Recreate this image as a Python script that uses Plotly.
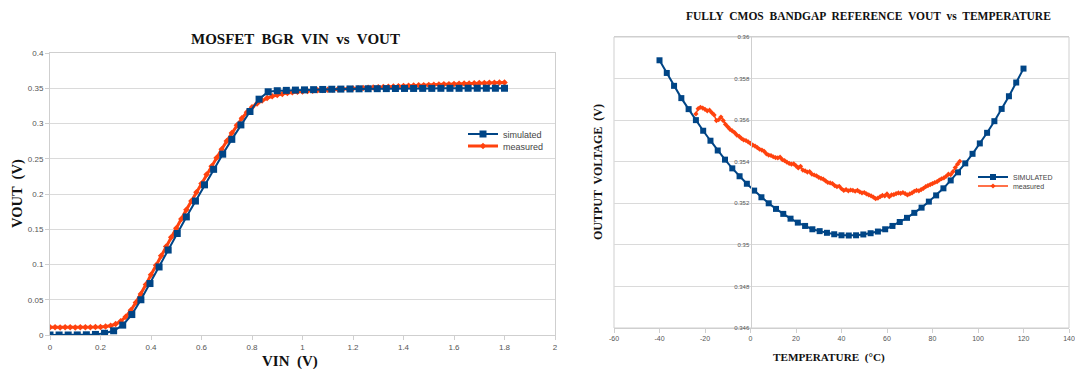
import plotly.graph_objects as go

# ---------------- Left chart: VIN vs VOUT ----------------
vin_sim = [0.000, 0.036, 0.072, 0.108, 0.144, 0.180, 0.216, 0.252, 0.288, 0.324,
           0.360, 0.396, 0.432, 0.468, 0.504, 0.540, 0.576, 0.612, 0.648, 0.684,
           0.720, 0.756, 0.792, 0.828, 0.864, 0.900, 0.936, 0.972, 1.008, 1.044,
           1.080, 1.116, 1.152, 1.188, 1.224, 1.260, 1.296, 1.332, 1.368, 1.404,
           1.440, 1.476, 1.512, 1.548, 1.584, 1.620, 1.656, 1.692, 1.728, 1.764, 1.800]
vout_sim = [0.0000, 0.0000, 0.0000, 0.0001, 0.0003, 0.0008, 0.0025, 0.0060, 0.0140, 0.0290,
            0.0500, 0.0730, 0.0965, 0.1205, 0.1440, 0.1675, 0.1900, 0.2130, 0.2350, 0.2565,
            0.2775, 0.2980, 0.3170, 0.3345, 0.3450, 0.3465, 0.3470, 0.3474, 0.3477, 0.3480,
            0.3483, 0.3486, 0.3488, 0.3490, 0.3492, 0.3493, 0.3494, 0.3495, 0.3496, 0.3497,
            0.3497, 0.3498, 0.3498, 0.3499, 0.3499, 0.3499, 0.3500, 0.3500, 0.3500, 0.3500, 0.3500]

vin_meas = [0.00, 0.02, 0.04, 0.06, 0.08, 0.10, 0.12, 0.14, 0.16, 0.18,
            0.20, 0.22, 0.24, 0.26, 0.28, 0.30, 0.32, 0.34, 0.36, 0.38,
            0.40, 0.42, 0.44, 0.46, 0.48, 0.50, 0.52, 0.54, 0.56, 0.58,
            0.60, 0.62, 0.64, 0.66, 0.68, 0.70, 0.72, 0.74, 0.76, 0.78,
            0.80, 0.82, 0.84, 0.86, 0.88, 0.90, 0.92, 0.94, 0.96, 0.98,
            1.00, 1.02, 1.04, 1.06, 1.08, 1.10, 1.12, 1.14, 1.16, 1.18,
            1.20, 1.22, 1.24, 1.26, 1.28, 1.30, 1.32, 1.34, 1.36, 1.38,
            1.40, 1.42, 1.44, 1.46, 1.48, 1.50, 1.52, 1.54, 1.56, 1.58,
            1.60, 1.62, 1.64, 1.66, 1.68, 1.70, 1.72, 1.74, 1.76, 1.78, 1.80]
vout_meas = [0.0110, 0.0110, 0.0108, 0.0110, 0.0109, 0.0108, 0.0110, 0.0110, 0.0111, 0.0112,
             0.0114, 0.0120, 0.0132, 0.0155, 0.0195, 0.0260, 0.0350, 0.0460, 0.0580, 0.0715,
             0.0855, 0.0990, 0.1125, 0.1255, 0.1385, 0.1515, 0.1645, 0.1775, 0.1900, 0.2025,
             0.2150, 0.2275, 0.2395, 0.2515, 0.2635, 0.2750, 0.2865, 0.2975, 0.3075, 0.3160,
             0.3230, 0.3285, 0.3328, 0.3360, 0.3385, 0.3405, 0.3420, 0.3432, 0.3442, 0.3450,
             0.3455, 0.3461, 0.3466, 0.3471, 0.3475, 0.3479, 0.3483, 0.3486, 0.3489, 0.3492,
             0.3495, 0.3499, 0.3503, 0.3507, 0.3511, 0.3515, 0.3518, 0.3522, 0.3525, 0.3529,
             0.3532, 0.3535, 0.3538, 0.3541, 0.3544, 0.3547, 0.3550, 0.3553, 0.3556, 0.3558,
             0.3561, 0.3563, 0.3566, 0.3568, 0.3570, 0.3573, 0.3575, 0.3577, 0.3579, 0.3581, 0.3583]

# ---------------- Right chart: VOUT vs temperature ----------------
temp_sim = [-40.0, -36.8, -33.6, -30.4, -27.2, -24.0, -20.8, -17.6, -14.4, -11.2,
            -8.0, -4.8, -1.6, 1.6, 4.8, 8.0, 11.2, 14.4, 17.6, 20.8,
            24.0, 27.2, 30.4, 33.6, 36.8, 40.0, 43.2, 46.4, 49.6, 52.8,
            56.0, 59.2, 62.4, 65.6, 68.8, 72.0, 75.2, 78.4, 81.6, 84.8,
            88.0, 91.2, 94.4, 97.6, 100.8, 104.0, 107.2, 110.4, 113.6, 116.8, 120.0]
vtemp_sim = [0.35888, 0.35827, 0.35765, 0.35706, 0.35653, 0.35600, 0.35549, 0.35501, 0.35454, 0.35410,
             0.35368, 0.35330, 0.35294, 0.35261, 0.35229, 0.35200, 0.35173, 0.35149, 0.35126, 0.35107,
             0.35091, 0.35075, 0.35066, 0.35058, 0.35051, 0.35046, 0.35045, 0.35046, 0.35050, 0.35056,
             0.35064, 0.35075, 0.35091, 0.35110, 0.35130, 0.35154, 0.35179, 0.35208, 0.35238, 0.35272,
             0.35310, 0.35349, 0.35392, 0.35438, 0.35488, 0.35539, 0.35595, 0.35654, 0.35715, 0.35781, 0.35848]

temp_meas = [-24, -23, -22, -21, -20, -19, -18, -17, -16, -15, -14, -13, -12, -11, -10,
             -9, -8, -7, -6, -5, -4, -3, -2, -1, 0, 1, 2, 3, 4, 5,
             6, 7, 8, 9, 10, 11, 12, 13, 14, 15, 16, 17, 18, 19, 20,
             21, 22, 23, 24, 25, 26, 27, 28, 29, 30, 31, 32, 33, 34, 35,
             36, 37, 38, 39, 40, 41, 42, 43, 44, 45, 46, 47, 48, 49, 50,
             51, 52, 53, 54, 55, 56, 57, 58, 59, 60, 61, 62, 63, 64, 65,
             66, 67, 68, 69, 70, 71, 72, 73, 74, 75, 76, 77, 78, 79, 80,
             81, 82, 83, 84, 85, 86, 87, 88, 89, 90, 91, 92]
vtemp_meas = [0.35630, 0.35655, 0.35662, 0.35658, 0.35652, 0.35645, 0.35648, 0.35636, 0.35625, 0.35598,
              0.35602, 0.35615, 0.35598, 0.35580, 0.35568, 0.35556, 0.35548, 0.35540, 0.35528, 0.35522,
              0.35512, 0.35505, 0.35502, 0.35495, 0.35488, 0.35480, 0.35475, 0.35468, 0.35460, 0.35456,
              0.35450, 0.35438, 0.35432, 0.35430, 0.35424, 0.35420, 0.35418, 0.35422, 0.35410, 0.35405,
              0.35398, 0.35392, 0.35388, 0.35390, 0.35380, 0.35370, 0.35378, 0.35360, 0.35356, 0.35350,
              0.35352, 0.35340, 0.35336, 0.35332, 0.35325, 0.35320, 0.35316, 0.35308, 0.35300, 0.35298,
              0.35295, 0.35285, 0.35280, 0.35282, 0.35270, 0.35262, 0.35266, 0.35260, 0.35264, 0.35262,
              0.35258, 0.35262, 0.35255, 0.35250, 0.35252, 0.35245, 0.35240, 0.35236, 0.35230, 0.35222,
              0.35225, 0.35232, 0.35238, 0.35235, 0.35245, 0.35232, 0.35240, 0.35242, 0.35246, 0.35250,
              0.35248, 0.35252, 0.35246, 0.35240, 0.35245, 0.35250, 0.35258, 0.35262, 0.35260, 0.35266,
              0.35272, 0.35280, 0.35285, 0.35290, 0.35295, 0.35300, 0.35304, 0.35312, 0.35318, 0.35322,
              0.35330, 0.35340, 0.35338, 0.35352, 0.35372, 0.35388, 0.35402]

left_xticks = [0, 0.2, 0.4, 0.6, 0.8, 1, 1.2, 1.4, 1.6, 1.8, 2]
left_yticks = [0, 0.05, 0.1, 0.15, 0.2, 0.25, 0.3, 0.35, 0.4]
right_xticks = [-60, -40, -20, 0, 20, 40, 60, 80, 100, 120, 140]
right_yticks = [0.346, 0.348, 0.35, 0.352, 0.354, 0.356, 0.358, 0.36]

BLUE = "#004586"
ORANGE = "#ff420e"
GRID = "#dadada"
LINEC = "#cfcfcf"
TICKFONT = "Liberation Sans"
SERIF = "Liberation Serif"

W, H = 1075, 369
def px(x):
    return x / W
def py(y):
    return 1 - y / H

L_X = [px(50), px(555)]
L_Y = [py(335), py(53)]
R_X = [px(614), px(1069)]
R_Y = [py(328), py(37)]
R_YPOS = R_X[0] + (0 - (-60)) / 200 * (R_X[1] - R_X[0])

fig = go.Figure()

fig.add_trace(go.Scatter(
    x=vin_meas, y=vout_meas, name="measured", mode="lines+markers",
    line=dict(color=ORANGE, width=3), marker=dict(symbol="diamond", size=5, color=ORANGE),
    xaxis="x", yaxis="y", legend="legend3"))
fig.add_trace(go.Scatter(
    x=vin_sim, y=vout_sim, name="simulated", mode="lines+markers",
    line=dict(color=BLUE, width=2), marker=dict(symbol="square", size=7, color=BLUE),
    xaxis="x", yaxis="y", legend="legend"))

fig.add_trace(go.Scatter(
    x=temp_sim, y=vtemp_sim, name="SIMULATED", mode="lines+markers",
    line=dict(color=BLUE, width=2), marker=dict(symbol="square", size=6, color=BLUE),
    xaxis="x2", yaxis="y2", legend="legend2"))
fig.add_trace(go.Scatter(
    x=temp_meas, y=vtemp_meas, name="measured", mode="lines+markers",
    line=dict(color=ORANGE, width=1.5), marker=dict(symbol="diamond", size=4, color=ORANGE),
    xaxis="x2", yaxis="y2", legend="legend4"))

def leg(x, y, size):
    return dict(x=x, y=y, xanchor="left", yanchor="middle",
                font=dict(family=TICKFONT, size=size, color="#444444"),
                bgcolor="rgba(0,0,0,0)", tracegroupgap=0)

fig.update_layout(
    width=W, height=H, showlegend=True,
    margin=dict(l=0, r=0, t=0, b=0, autoexpand=False),
    paper_bgcolor="white", plot_bgcolor="white",
    xaxis=dict(domain=L_X, anchor="y", range=[0, 2], tickvals=left_xticks,
               ticktext=[f"{v:g}" for v in left_xticks], automargin=False,
               showgrid=False, mirror=True, ticks="outside", ticklen=4, tickcolor=LINEC,
               showline=True, linecolor=LINEC, zeroline=False,
               tickfont=dict(family=TICKFONT, size=8, color="#555555")),
    yaxis=dict(domain=L_Y, anchor="x", range=[0, 0.4], tickvals=left_yticks,
               ticktext=[f"{v:g}" for v in left_yticks], automargin=False,
               showgrid=True, gridcolor=GRID, mirror=True, ticks="outside", ticklen=4,
               tickcolor=LINEC, showline=True, linecolor=LINEC, zeroline=False,
               tickfont=dict(family=TICKFONT, size=8, color="#555555")),
    xaxis2=dict(domain=R_X, anchor="y2", range=[-60, 140], tickvals=right_xticks,
                ticktext=[f"{v:g}" for v in right_xticks], automargin=False,
                showgrid=False, mirror=True, ticks="outside", ticklen=4, tickcolor=LINEC,
                showline=True, linecolor=LINEC, zeroline=False,
                tickfont=dict(family=TICKFONT, size=7, color="#555555")),
    yaxis2=dict(domain=R_Y, anchor="free", position=R_YPOS, range=[0.346, 0.36],
                tickvals=right_yticks, ticktext=[f"{v:g}" for v in right_yticks], automargin=False,
                showgrid=True, gridcolor=GRID, ticks="", showline=True, linecolor=LINEC,
                zeroline=False, tickfont=dict(family=TICKFONT, size=6, color="#555555")),
    legend=leg(px(463), py(134), 9),
    legend3=leg(px(463), py(146), 9),
    legend2=leg(px(973), py(177), 7),
    legend4=leg(px(973), py(186), 7),
    shapes=[dict(type="rect", xref="x2 domain", yref="y2 domain", x0=0, x1=1, y0=0, y1=1,
                 line=dict(color=LINEC, width=1), layer="below")],
    annotations=[
        dict(text="<b>MOSFET  BGR  VIN  vs  VOUT</b>", x=px(295), y=py(39),
             font=dict(family=SERIF, size=15, color="#111111")),
        dict(text="<b>FULLY  CMOS  BANDGAP  REFERENCE  VOUT  vs  TEMPERATURE</b>", x=px(868), y=py(16),
             font=dict(family=SERIF, size=11.5, color="#111111")),
        dict(text="<b>VOUT  (V)</b>", x=px(17), y=py(194), textangle=-90,
             font=dict(family=SERIF, size=14.5, color="#111111")),
        dict(text="<b>VIN  (V)</b>", x=px(290), y=py(361),
             font=dict(family=SERIF, size=15, color="#111111")),
        dict(text="<b>OUTPUT  VOLTAGE  (V)</b>", x=px(598), y=py(172), textangle=-90,
             font=dict(family=SERIF, size=12, color="#111111")),
        dict(text="<b>TEMPERATURE  (°C)</b>", x=px(829), y=py(357),
             font=dict(family=SERIF, size=11.2, color="#111111")),
    ],
)
fig.update_annotations(xref="paper", yref="paper", xanchor="center", yanchor="middle", showarrow=False)

fig.write_html(
    "out.html",
    config={"displayModeBar": False},
    post_script="document.body.style.margin='0';document.body.style.overflow='hidden';",
)
